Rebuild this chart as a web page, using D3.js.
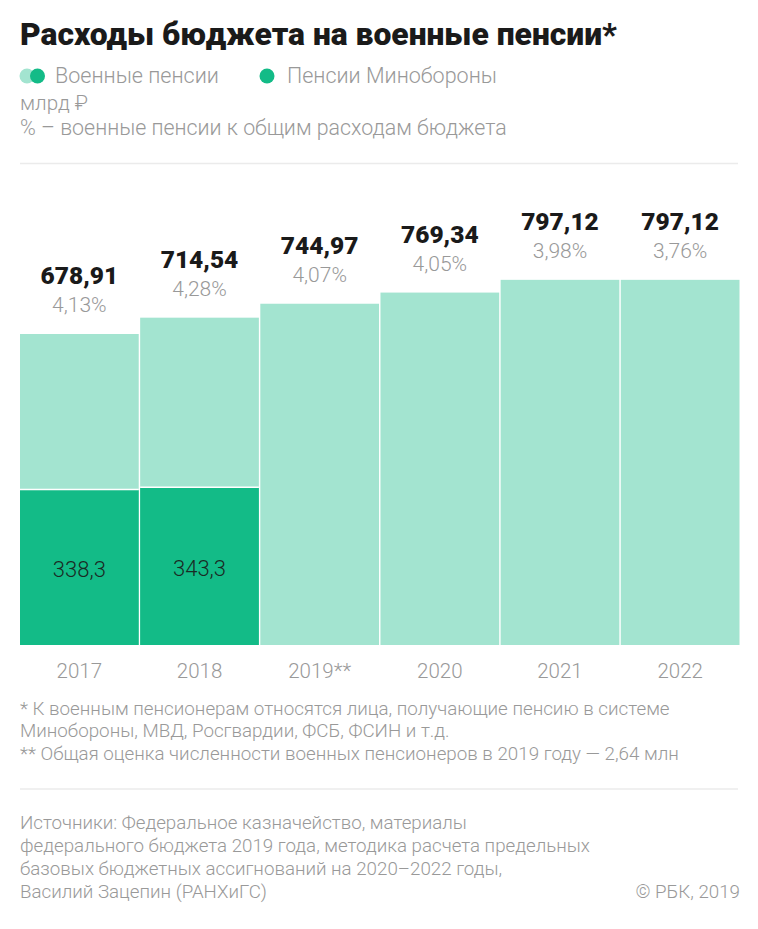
<!DOCTYPE html>
<html><head><meta charset="utf-8">
<script src="https://cdn.jsdelivr.net/npm/d3@7/dist/d3.min.js"></script>
<style>
body{margin:0;background:#fff;}
svg{display:block;font-family:Roboto, "Noto Sans", sans-serif;}
</style></head>
<body><svg id="c" width="758" height="929"></svg>
<script>
const years = ["2017","2018","2019**","2020","2021","2022"];
const totals = [678.91, 714.54, 744.97, 769.34, 797.12, 797.12];
const totalLabels = ["678,91","714,54","744,97","769,34","797,12","797,12"];
const shares = ["4,13%","4,28%","4,07%","4,05%","3,98%","3,76%"];
const mod = [338.3, 343.3, null, null, null, null];
const modLabels = ["338,3","343,3",null,null,null,null];

const LIGHT = "#a3e4d0", DARK = "#13bb87", GRAY = "#999999", LW = 300;
const svg = d3.select("#c");

function fit(sel, w){
  const node = sel.node();
  const fs = parseFloat(sel.attr("font-size"));
  const l = node.getComputedTextLength();
  if (l > 0) sel.attr("font-size", (fs * w / l).toFixed(2));
  return sel;
}

// title
fit(svg.append("text").attr("x",20).attr("y",45).attr("font-size",28).attr("font-weight",900)
  .attr("fill","#1a1a1a").text("Расходы бюджета на военные пенсии*"), 597);

// legend
svg.append("circle").attr("cx",27).attr("cy",76).attr("r",7.5).attr("fill",LIGHT);
svg.append("circle").attr("cx",37.5).attr("cy",76).attr("r",7.5).attr("fill",DARK);
fit(svg.append("text").attr("x",55).attr("y",83).attr("font-size",19).attr("font-weight",LW).attr("fill",GRAY).text("Военные пенсии"),164);
svg.append("circle").attr("cx",267).attr("cy",76).attr("r",7.5).attr("fill",DARK);
fit(svg.append("text").attr("x",287).attr("y",83).attr("font-size",19).attr("font-weight",LW).attr("fill",GRAY).text("Пенсии Минобороны"),210);
fit(svg.append("text").attr("x",20).attr("y",110).attr("font-size",19).attr("font-weight",LW).attr("fill",GRAY).text("млрд ₽"),68);
fit(svg.append("text").attr("x",20).attr("y",135).attr("font-size",19).attr("font-weight",LW).attr("fill",GRAY).text("% – военные пенсии к общим расходам бюджета"),487);

svg.append("line").attr("x1",20).attr("x2",738).attr("y1",163.5).attr("y2",163.5).attr("stroke","#ebebeb").attr("stroke-width",1.5);

// chart
const x = d3.scaleBand().domain(years).range([20,739.5]).paddingInner(0.012).paddingOuter(0);
const y = d3.scaleLinear().domain([0, 678.91]).range([645, 334]);

const g = svg.append("g");
g.selectAll("rect.tot").data(years).join("rect").attr("class","tot")
  .attr("x",d=>x(d)).attr("width",x.bandwidth())
  .attr("y",(d,i)=>y(totals[i])).attr("height",(d,i)=>y(0)-y(totals[i]))
  .attr("fill",LIGHT);

const modIdx = years.map((d,i)=>i).filter(i=>mod[i]!=null);
g.selectAll("rect.mod").data(modIdx).join("rect").attr("class","mod")
  .attr("x",i=>x(years[i])).attr("width",x.bandwidth())
  .attr("y",i=>y(mod[i])).attr("height",i=>y(0)-y(mod[i]))
  .attr("fill",DARK);
g.selectAll("line.sep").data(modIdx).join("line").attr("class","sep")
  .attr("x1",i=>x(years[i])).attr("x2",i=>x(years[i])+x.bandwidth())
  .attr("y1",i=>y(mod[i])-0.5).attr("y2",i=>y(mod[i])-0.5)
  .attr("stroke","#fff").attr("stroke-width",1.5);
g.selectAll("text.mod").data(modIdx).join("text").attr("class","mod")
  .attr("x",i=>x(years[i])+x.bandwidth()/2).attr("y",i=>(y(mod[i])+y(0))/2+9.5)
  .attr("text-anchor","middle").attr("font-size",22).attr("font-weight",LW).attr("fill","#1a2a24")
  .text(i=>modLabels[i]);

g.selectAll("text.tot").data(years).join("text").attr("class","tot")
  .attr("x",d=>x(d)+x.bandwidth()/2).attr("y",(d,i)=>y(totals[i])-50)
  .attr("text-anchor","middle").attr("font-size",24.5).attr("font-weight",900).attr("fill","#1a1a1a")
  .text((d,i)=>totalLabels[i]);
g.selectAll("text.sh").data(years).join("text").attr("class","sh")
  .attr("x",d=>x(d)+x.bandwidth()/2).attr("y",(d,i)=>y(totals[i])-22)
  .attr("text-anchor","middle").attr("font-size",21).attr("font-weight",LW).attr("fill",GRAY)
  .text((d,i)=>shares[i]);

const ax = svg.append("g").attr("transform","translate(0,645)")
  .call(d3.axisBottom(x).tickSize(0).tickPadding(0));
ax.select(".domain").remove();
ax.selectAll("text").attr("font-size",20.5).attr("font-weight",LW).attr("fill",GRAY).attr("dy",0).attr("y",33)
  .attr("font-family","Roboto, 'Noto Sans', sans-serif");

// footnotes
const n1 = fit(svg.append("text").attr("x",20).attr("y",715).attr("font-size",17).attr("font-weight",LW).attr("fill",GRAY)
  .text("* К военным пенсионерам относятся лица, получающие пенсию в системе"),650);
const fsNote = parseFloat(n1.attr("font-size"));
svg.append("text").attr("x",20).attr("y",737).attr("font-size",fsNote).attr("font-weight",LW).attr("fill",GRAY)
  .text("Минобороны, МВД, Росгвардии, ФСБ, ФСИН и т.д.");
svg.append("text").attr("x",20).attr("y",760).attr("font-size",fsNote).attr("font-weight",LW).attr("fill",GRAY)
  .text("** Общая оценка численности военных пенсионеров в 2019 году — 2,64 млн");

svg.append("line").attr("x1",20).attr("x2",738).attr("y1",789).attr("y2",789).attr("stroke","#ebebeb").attr("stroke-width",1.5);

const src = ["Источники: Федеральное казначейство, материалы",
 "федерального бюджета 2019 года, методика расчета предельных",
 "базовых бюджетных ассигнований на 2020–2022 годы,",
 "Василий Зацепин (РАНХиГС)"];
const srcY = [829,852,875,898];
const s2 = fit(svg.append("text").attr("x",20).attr("y",srcY[1]).attr("font-size",17).attr("font-weight",LW).attr("fill",GRAY).text(src[1]),570);
const fsSrc = parseFloat(s2.attr("font-size"));
[0,2,3].forEach(i=>svg.append("text").attr("x",20).attr("y",srcY[i]).attr("font-size",fsSrc).attr("font-weight",LW).attr("fill",GRAY).text(src[i]));
svg.append("text").attr("x",740).attr("y",898).attr("text-anchor","end").attr("font-size",fsSrc).attr("font-weight",LW).attr("fill",GRAY).text("© РБК, 2019");
</script></body></html>
